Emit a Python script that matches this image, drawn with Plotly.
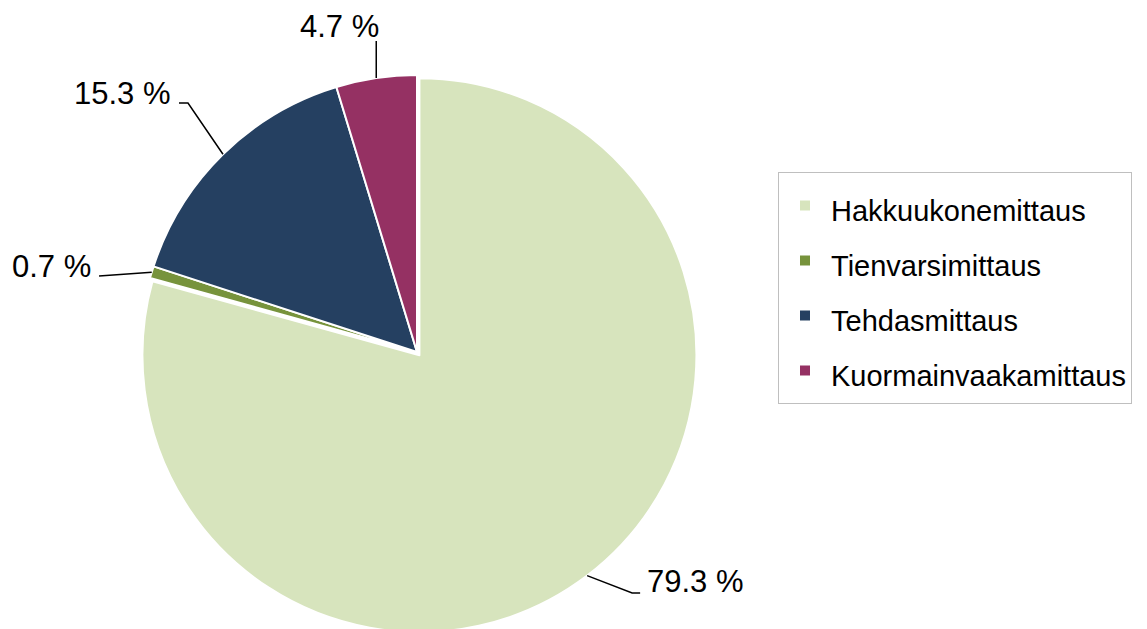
import math
import plotly.graph_objects as go

# ---- data ----
categories = ["Hakkuukonemittaus", "Tienvarsimittaus", "Tehdasmittaus", "Kuormainvaakamittaus"]
shares = [79.3, 0.7, 15.3, 4.7]
label_texts = ["79.3 %", "0.7 %", "15.3 %", "4.7 %"]
colors = ["#D7E4BD", "#77933C", "#254061", "#953163"]

# ---- layout geometry (page pixels; the page body adds an 8px margin) ----
W, H = 1147, 629
OFF = 8
CX, CY, R = 417, 352, 277
PULL = [0.0145, 0, 0, 0]
FONT = "Arial, Liberation Sans, sans-serif"


def px(x, y):
    return (x - OFF) / W, 1 - (y - OFF) / H


half = R * (1 + max(PULL))
x0, y1 = px(CX - half, CY - half)
x1, y0 = px(CX + half, CY + half)
domain_x = [x0, x1]
domain_y = [max(0.0, y0), min(1.0, y1)]

legend_labels = [f"<span style='font-size:29px'>{c}</span>" for c in categories]

fig = go.Figure()
fig.add_trace(go.Pie(
    labels=legend_labels,
    values=shares,
    sort=False,
    direction="clockwise",
    rotation=0,
    pull=PULL,
    marker=dict(colors=colors, line=dict(color="white", width=2)),
    textinfo="none",
    hoverinfo="label+percent",
    domain=dict(x=domain_x, y=domain_y),
    showlegend=True,
))

# leader-line elbows and text offsets, relative to the slice edge (px)
leader = [
    dict(path=[(45, 17.3), (53, 17.3)], tx=58, ty=5.8, anchor="left"),
    dict(path=[(-52.7, 3.8)], tx=-58.7, ty=-6, anchor="right"),
    dict(path=[(-35, -51.3), (-44, -51.3)], tx=-50, ty=-61, anchor="right"),
    dict(path=[(0, -37)], tx=5, ty=-52, anchor="right"),
]

total = sum(shares)
cum = 0.0
shapes, annotations = [], []
for v, p, txt, ld in zip(shares, PULL, label_texts, leader):
    mid = (cum + v / 2) / total * 2 * math.pi
    cum += v
    s, c = math.sin(mid), math.cos(mid)
    ox, oy = CX + p * R * s, CY - p * R * c
    ex, ey = ox + R * s, oy - R * c
    pts = [(ex, ey)] + [(ex + dx, ey + dy) for dx, dy in ld["path"]]
    d = ""
    for i, (x, y) in enumerate(pts):
        X, Y = px(x, y)
        d += ("M" if i == 0 else " L") + f"{X:.5f},{Y:.5f}"
    shapes.append(dict(type="path", xref="paper", yref="paper", path=d,
                       line=dict(color="black", width=1.5)))
    X, Y = px(ex + ld["tx"], ey + ld["ty"])
    annotations.append(dict(x=X, y=Y, xref="paper", yref="paper", text=txt,
                            showarrow=False, xanchor=ld["anchor"], yanchor="middle",
                            font=dict(size=31, color="black", family=FONT)))

lx, ly = px(778, 172)
fig.update_layout(
    width=W, height=H,
    margin=dict(l=0, r=0, t=0, b=0),
    paper_bgcolor="white",
    plot_bgcolor="white",
    font=dict(family=FONT, color="black"),
    shapes=shapes,
    annotations=annotations,
    legend=dict(
        x=lx, xanchor="left",
        y=ly, yanchor="top",
        bordercolor="#bfbfbf", borderwidth=1, bgcolor="white",
        font=dict(size=40, family=FONT, color="black"),
        itemwidth=42,
    ),
)

fig.write_html("out.html")
